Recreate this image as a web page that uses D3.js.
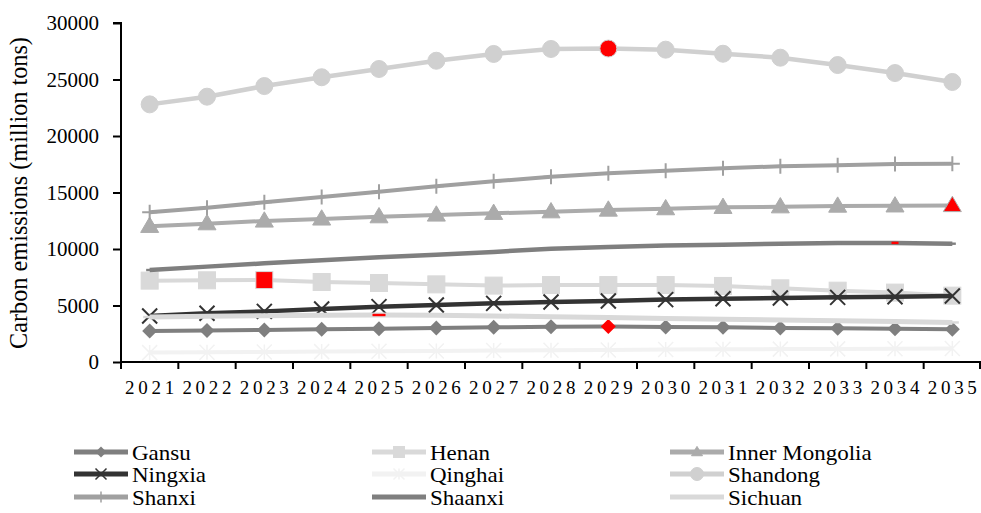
<!DOCTYPE html>
<html>
<head>
<meta charset="utf-8">
<script src="https://cdn.jsdelivr.net/npm/d3@7"></script>
<style>
  html, body { margin: 0; padding: 0; background: #fff; }
  svg { display: block; }
  svg text { font-family: "Liberation Serif", "Times New Roman", Times, "DejaVu Serif", serif !important; fill: #000; }
</style>
</head>
<body>
<svg id="chart" width="981" height="513"></svg>
<script>
// ---- data ----
const years = ["2021","2022","2023","2024","2025","2026","2027","2028","2029","2030","2031","2032","2033","2034","2035"];
const yTicks = [0, 5000, 10000, 15000, 20000, 25000, 30000];
const seriesNames = ["Gansu","Henan","Inner Mongolia","Ningxia","Qinghai","Shandong","Shanxi","Shaanxi","Sichuan"];

const gansu         = [2750, 2780, 2830, 2890, 2950, 3010, 3070, 3120, 3140, 3100, 3070, 3010, 2980, 2950, 2890];
const henan         = [7200, 7230, 7250, 7080, 6990, 6870, 6760, 6810, 6810, 6810, 6730, 6520, 6310, 6140, 5870];
const innerMongolia = [12010, 12240, 12480, 12660, 12860, 13010, 13160, 13300, 13450, 13570, 13690, 13740, 13800, 13820, 13850];
const ningxia       = [4070, 4310, 4480, 4690, 4900, 5040, 5190, 5310, 5400, 5520, 5600, 5660, 5720, 5780, 5840];
const qinghai       = [830, 860, 890, 920, 950, 980, 1010, 1040, 1070, 1100, 1120, 1140, 1160, 1180, 1200];
const shandong      = [22800, 23480, 24420, 25200, 25930, 26660, 27260, 27700, 27740, 27640, 27280, 26930, 26280, 25570, 24780];
const shanxi        = [13250, 13650, 14130, 14600, 15070, 15550, 15990, 16400, 16700, 16930, 17140, 17320, 17410, 17520, 17550];
const shaanxi       = [8140, 8440, 8730, 9000, 9260, 9500, 9740, 10030, 10180, 10300, 10380, 10470, 10530, 10540, 10470];
const sichuan       = [3980, 4050, 4100, 4140, 4160, 4130, 4080, 4000, 3930, 3860, 3790, 3720, 3650, 3580, 3500];

// year index of the highlighted (peak) marker per series, -1 = none shown
const peakIndex = [8, 2, 14, -1, -1, 8, -1, 13, 4];

// ---- styles ----
const styles = [
  { color: "#7f7f7f", width: 4,   marker: "diamond",  size: 15 },
  { color: "#d9d9d9", width: 4,   marker: "square",   size: 17 },
  { color: "#ababab", width: 4,   marker: "triangle", size: 18 },
  { color: "#333333", width: 4.5, marker: "x",        size: 15 },
  { color: "#f2f2f2", width: 4,   marker: "asterisk", size: 15 },
  { color: "#d0d0d0", width: 4.5, marker: "circle",   size: 17 },
  { color: "#a0a0a0", width: 4,   marker: "plus",     size: 15 },
  { color: "#7f7f7f", width: 4.5, marker: "dash",     size: 7  },
  { color: "#d9d9d9", width: 5,   marker: "dash",     size: 13 }
];
const allValues = [gansu, henan, innerMongolia, ningxia, qinghai, shandong, shanxi, shaanxi, sichuan];

const FONT = "'Liberation Serif', 'Times New Roman', Times, 'DejaVu Serif', serif";
const svg = d3.select("#chart");
const mLeft = 121, mRight = 981, mTop = 23, mBottom = 362;

const x = d3.scaleBand().domain(years).range([mLeft, mRight]);
const y = d3.scaleLinear().domain([0, 30000]).range([mBottom, mTop]);
const cx = d => x(d) + x.bandwidth() / 2;

function drawMarker(g, type, px, py, s, fill, strokeCol, sw) {
  const h = s / 2;
  if (type === "diamond") {
    g.append("path").attr("d", `M${px},${py-h}L${px+h},${py}L${px},${py+h}L${px-h},${py}Z`).attr("fill", fill);
  } else if (type === "square") {
    g.append("rect").attr("x", px-h).attr("y", py-h).attr("width", s).attr("height", s).attr("fill", fill)
      .attr("stroke", strokeCol).attr("stroke-width", 1);
  } else if (type === "triangle") {
    const th = s * 0.85;
    g.append("path").attr("d", `M${px},${py-th*0.6}L${px+h},${py+th*0.4}L${px-h},${py+th*0.4}Z`).attr("fill", fill)
      .attr("stroke", strokeCol).attr("stroke-width", 1);
  } else if (type === "circle") {
    g.append("circle").attr("cx", px).attr("cy", py).attr("r", h).attr("fill", fill)
      .attr("stroke", strokeCol).attr("stroke-width", 1);
  } else if (type === "x") {
    g.append("path").attr("d", `M${px-h},${py-h}L${px+h},${py+h}M${px-h},${py+h}L${px+h},${py-h}`)
      .attr("stroke", fill).attr("stroke-width", sw || 2).attr("fill", "none");
  } else if (type === "plus") {
    g.append("path").attr("d", `M${px-h},${py}L${px+h},${py}M${px},${py-h}L${px},${py+h}`)
      .attr("stroke", fill).attr("stroke-width", sw || 2).attr("fill", "none");
  } else if (type === "asterisk") {
    g.append("path").attr("d", `M${px-h},${py-h}L${px+h},${py+h}M${px-h},${py+h}L${px+h},${py-h}M${px},${py-h}L${px},${py+h}`)
      .attr("stroke", fill).attr("stroke-width", sw || 1.5).attr("fill", "none");
  } else if (type === "dash") {
    g.append("rect").attr("x", px-h).attr("y", py-1.2).attr("width", s).attr("height", 2.4).attr("fill", fill);
  }
}

// ---- axes ----
const yAxis = d3.axisLeft(y).tickValues(yTicks).tickSize(8).tickPadding(14).tickFormat(d3.format("d"));
const gy = svg.append("g").attr("transform", `translate(${mLeft},0)`).call(yAxis)
  .attr("font-family", FONT).attr("font-size", 21);
gy.select(".domain").attr("stroke", "#000").attr("stroke-width", 2).attr("d", `M-8,${mTop}H0V${mBottom}`);
gy.selectAll(".tick line").attr("stroke", "#000").attr("stroke-width", 2);
gy.selectAll(".tick text").attr("font-family", FONT).style("font-size", "21px");

const xAxis = d3.axisBottom(x).tickSize(0).tickPadding(19);
const gx = svg.append("g").attr("transform", `translate(0,${mBottom})`).call(xAxis)
  .attr("font-family", FONT).attr("font-size", 19);
gx.select(".domain").attr("stroke", "#000").attr("stroke-width", 2).attr("d", `M${mLeft},0H${mRight}`);
gx.selectAll(".tick text").attr("font-family", FONT).style("font-size", "19px")
  .style("letter-spacing", "3.7px").attr("dx", "1.8px");
// tick marks on category boundaries
gx.selectAll(".bnd").data(years.concat(["end"])).enter().append("line")
  .attr("x1", d => d === "end" ? mRight - 1 : x(d)).attr("x2", d => d === "end" ? mRight - 1 : x(d))
  .attr("y1", 0).attr("y2", 7).attr("stroke", "#000").attr("stroke-width", 2);

// axis title (sized to span the same length as in the reference)
const title = svg.append("text").attr("transform", `translate(21,193) rotate(-90)`)
  .attr("text-anchor", "middle").attr("dominant-baseline", "middle").attr("font-family", FONT)
  .style("font-size", "22px").text("Carbon emissions (million tons)");
const tl = title.node().getComputedTextLength();
if (tl > 0) title.style("font-size", (22 * 312 / tl).toFixed(2) + "px");

// ---- series ----
const line = d3.line().x((d, i) => cx(years[i])).y(d => y(d));
const plot = svg.append("g");
allValues.forEach((vals, si) => {
  const st = styles[si];
  const g = plot.append("g");
  g.append("path").attr("d", line(vals)).attr("fill", "none").attr("stroke", st.color)
    .attr("stroke-width", st.width).attr("stroke-linejoin", "round");
  vals.forEach((v, i) => {
    const isPeak = i === peakIndex[si];
    drawMarker(g, st.marker, cx(years[i]), y(v), st.size, isPeak ? "#ff0000" : st.color, st.color);
  });
});

// ---- legend ----
const legend = svg.append("g");
const colX = [74, 372, 670];
const rowY = [452, 474, 497];
seriesNames.forEach((name, i) => {
  const st = styles[i];
  const lx = colX[i % 3], ly = rowY[Math.floor(i / 3)];
  const g = legend.append("g");
  g.append("line").attr("x1", lx).attr("x2", lx + 54).attr("y1", ly).attr("y2", ly)
    .attr("stroke", st.color).attr("stroke-width", 5);
  if (st.marker !== "dash") {
    drawMarker(g, st.marker, lx + 27, ly, st.marker === "circle" ? 13 : 11, st.color, st.color, 1.5);
  }
  g.append("text").attr("transform", `translate(${lx + 58},${ly + 7.5}) scale(1.15,1)`)
    .attr("font-family", FONT).style("font-size", "20px").text(name);
});
</script>
</body>
</html>
